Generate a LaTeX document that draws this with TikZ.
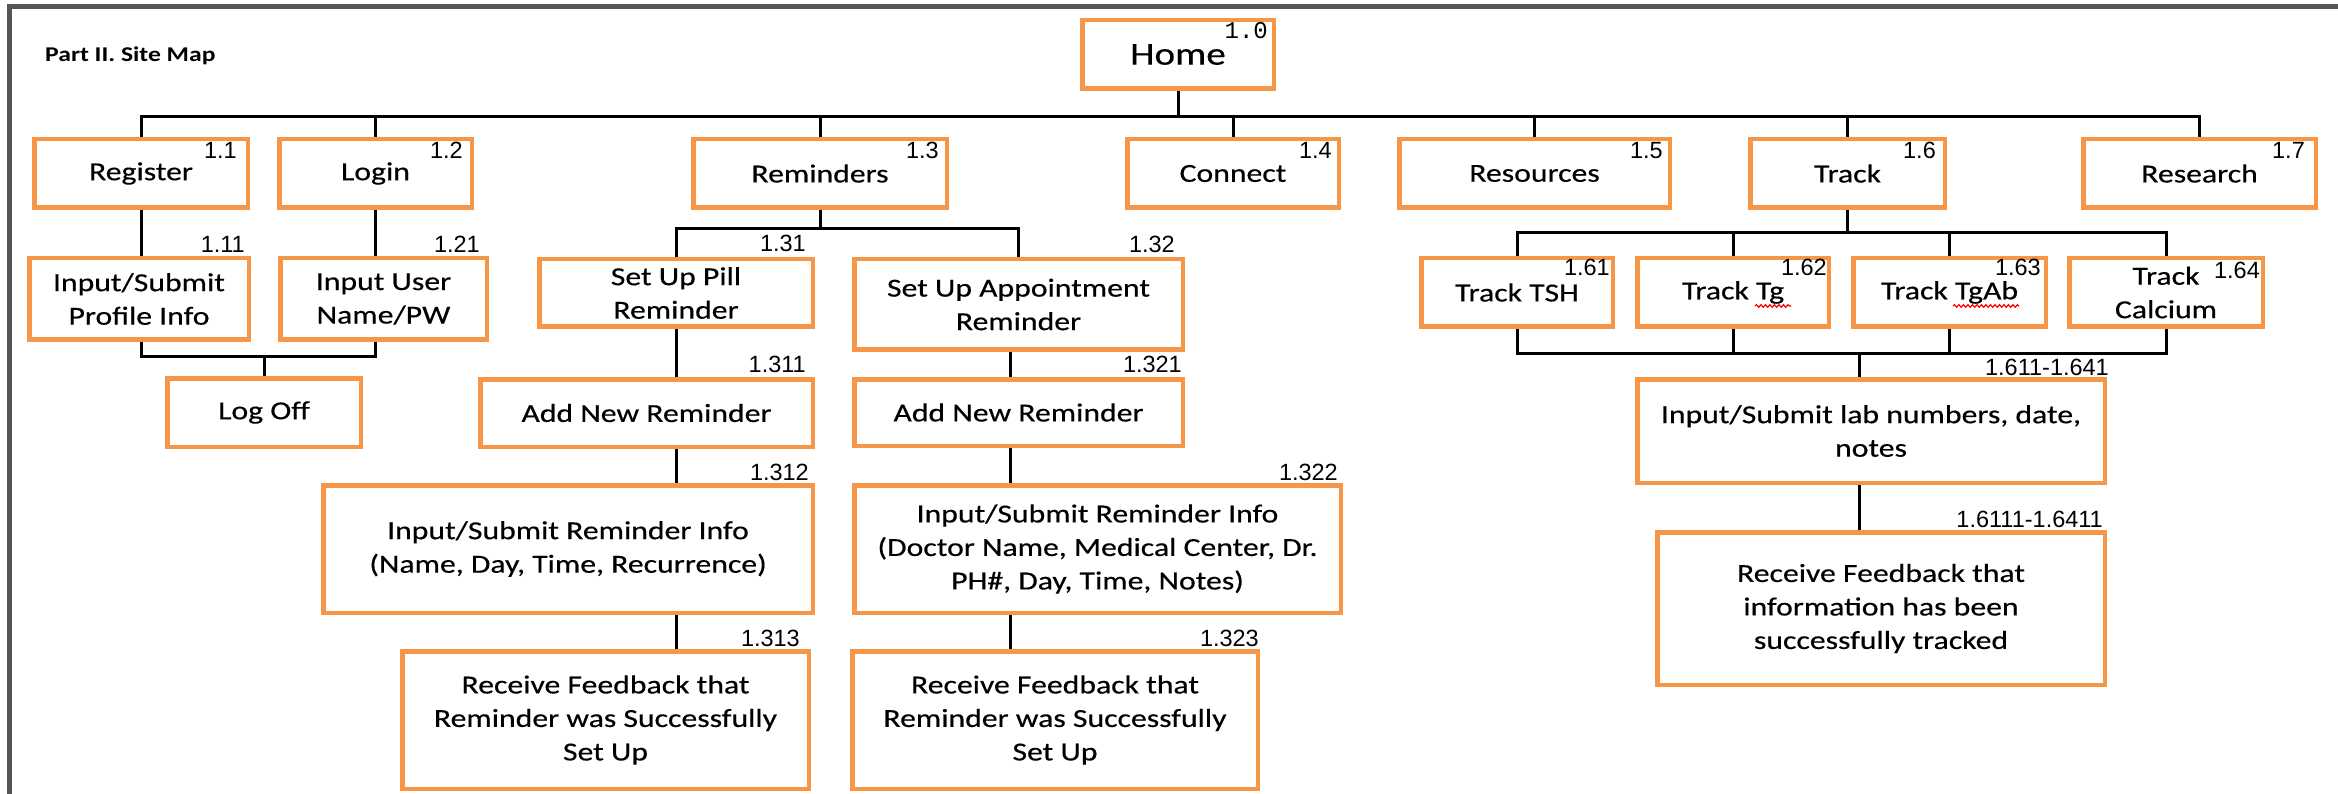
\documentclass[tikz,border=0pt]{standalone}
\usepackage{fontspec}
\setmainfont{Carlito}[FakeStretch=1.22, FakeBold=0.4]
\newfontfamily\titlefont{Carlito Bold}[FakeStretch=1.22]
\newfontfamily\lblsans{Liberation Sans}
\newfontfamily\lblmono{Liberation Mono}
\usetikzlibrary{calc,decorations.pathmorphing}
\definecolor{boxorange}{RGB}{247,150,70}
\definecolor{framegray}{RGB}{85,85,85}
\tikzset{
  box/.style={draw=boxorange, line width=4.5pt, fill=white, inner sep=0pt, align=center,
    font=\fontsize{26}{33.5}\selectfont, text=black},
  lbl/.style={inner sep=0pt, font=\lblsans\fontsize{23.5}{23.5}\selectfont, text=black},
  link/.style={draw=black, line width=3pt},
  squig/.style={draw=red, line width=1.2pt, decorate, decoration={snake, amplitude=1.3pt, segment length=4.5pt}}
}
\newcommand\bx[6]{\node[box, minimum width={#4-#2-4.5}, minimum height={#5-#3-4.5}] (#1) at ({(#2+#4)/2},{(#3+#5)/2}) {#6};}
\begin{document}
\begin{tikzpicture}[x=1pt, y=-1pt]
\useasboundingbox (0,0) rectangle (2338,794);
\fill[white] (0,0) rectangle (2338,794);
% frame
\draw[framegray, line width=5pt] (2338,6.5) -- (9,6.5) -- (9,794);

% title
\node[anchor=base west, inner sep=0pt, font=\titlefont\fontsize{21}{21}\selectfont] (title) at (45,62) {Part II. Site Map};

% boxes
\bx{home}{1080}{18}{1276}{91}{\fontsize{32}{32}\selectfont Home}
\bx{reg}{32}{137}{250}{210}{Register}
\bx{login}{277}{137}{474}{210}{Login}
\bx{rem}{691}{137}{949}{210}{Reminders}
\bx{conn}{1125}{137}{1341}{210}{Connect}
\bx{res}{1397}{137}{1672}{210}{Resources}
\bx{track}{1748}{137}{1947}{210}{Track}
\bx{resr}{2081}{137}{2318}{210}{Research}
\bx{prof}{27}{256}{251}{342}{Input/Submit\\Profile Info}
\bx{user}{278}{256}{489}{342}{Input User\\Name/PW}
\bx{logoff}{165}{376}{363}{449}{Log Off}
\bx{pill}{537}{257}{815}{329}{Set Up Pill\\Reminder}
\bx{appt}{852}{257}{1185}{352}{Set Up Appointment\\Reminder}
\bx{add1}{478}{377}{815}{449}{Add New Reminder}
\bx{add2}{852}{377}{1185}{448}{Add New Reminder}
\bx{info1}{321}{483}{815}{615}{Input/Submit Reminder Info\\(Name, Day, Time, Recurrence)}
\bx{info2}{852}{483}{1343}{615}{Input/Submit Reminder Info\\(Doctor Name, Medical Center, Dr.\\PH\#, Day, Time, Notes)}
\bx{fb1}{400}{649}{811}{791}{Receive Feedback that\\Reminder was Successfully\\Set Up}
\bx{fb2}{850}{649}{1260}{791}{Receive Feedback that\\Reminder was Successfully\\Set Up}
\bx{tsh}{1419}{256}{1615}{329}{Track TSH}
\bx{tg}{1635}{256}{1831}{329}{Track Tg}
\bx{tgab}{1851}{256}{2048}{329}{Track TgAb}
\bx{calc}{2067}{256}{2265}{329}{Track\\Calcium}
\bx{lab}{1635}{377}{2107}{485}{Input/Submit lab numbers, date,\\notes}
\bx{fb3}{1655}{530}{2107}{687}{Receive Feedback that\\information has been\\successfully tracked}

% spell-check squiggles
\draw[squig] (1755,306) -- (1791,306);
\draw[squig] (1953,306) -- (2019,306);

% bus coordinates
\coordinate (b1) at (0,117);
\coordinate (j1) at (0,357);
\coordinate (j2) at (0,229);
\coordinate (j3) at (0,233);
\coordinate (j4) at (0,354);
\coordinate (cx1) at (676,0);
\coordinate (cx2) at (1010,0);
\coordinate (cx3) at (1859,0);

% level 1
\draw[link] (home.south) -- (home.south |- b1);
\draw[link] (reg.north) -- (reg.north |- b1) -- (resr.north |- b1) -- (resr.north);
\foreach \n in {login,rem,conn,res,track} \draw[link] (\n.north) -- (\n.north |- b1);

% register / login
\draw[link] (reg.south) -- (reg.south |- prof.north);
\draw[link] (login.south) -- (login.south |- user.north);
\draw[link] (reg.south |- prof.south) -- (reg.south |- j1) -- (login.south |- j1) -- (login.south |- user.south);
\draw[link] (logoff.north) -- (logoff.north |- j1);

% reminders
\draw[link] (rem.south) -- (rem.south |- j2);
\draw[link] (pill.north) -- (pill.north |- j2) -- (appt.north |- j2) -- (appt.north);
\draw[link] (cx1 |- pill.south) -- (cx1 |- add1.north);
\draw[link] (cx1 |- add1.south) -- (cx1 |- info1.north);
\draw[link] (cx1 |- info1.south) -- (cx1 |- fb1.north);
\draw[link] (cx2 |- appt.south) -- (cx2 |- add2.north);
\draw[link] (cx2 |- add2.south) -- (cx2 |- info2.north);
\draw[link] (cx2 |- info2.south) -- (cx2 |- fb2.north);

% track
\draw[link] (track.south) -- (track.south |- j3);
\draw[link] (tsh.north) -- (tsh.north |- j3) -- (calc.north |- j3) -- (calc.north);
\draw[link] (tg.north) -- (tg.north |- j3);
\draw[link] (tgab.north) -- (tgab.north |- j3);
\draw[link] (tsh.south) -- (tsh.south |- j4) -- (calc.south |- j4) -- (calc.south);
\draw[link] (tg.south) -- (tg.south |- j4);
\draw[link] (tgab.south) -- (tgab.south |- j4);
\draw[link] (cx3 |- j4) -- (cx3 |- lab.north);
\draw[link] (cx3 |- lab.south) -- (cx3 |- fb3.north);

% labels inside boxes
\node[lbl, anchor=north east, font=\lblmono\fontsize{24}{24}\selectfont] (n10) at (1268,22) {1.0};
\node[lbl, anchor=north east] (n11) at (237,142) {1.1};
\node[lbl, anchor=north east] (n12) at (463,142) {1.2};
\node[lbl, anchor=north east] (n13) at (939,142) {1.3};
\node[lbl, anchor=north east] (n14) at (1332,142) {1.4};
\node[lbl, anchor=north east] (n15) at (1663,142) {1.5};
\node[lbl, anchor=north east] (n16) at (1936,142) {1.6};
\node[lbl, anchor=north east] (n17) at (2305,142) {1.7};
\node[lbl, anchor=north east] (n161) at (1610,259) {1.61};
\node[lbl, anchor=north east] (n162) at (1827,259) {1.62};
\node[lbl, anchor=north east] (n163) at (2041,259) {1.63};
\node[lbl, anchor=north east] (n164) at (2260,262) {1.64};
% labels above boxes
\node[lbl, anchor=base east] (n111) at (245,253) {1.11};
\node[lbl, anchor=base east] (n121) at (480,253) {1.21};
\node[lbl, anchor=base east] (n131) at (806,252) {1.31};
\node[lbl, anchor=base east] (n132) at (1175,253) {1.32};
\node[lbl, anchor=base east] (n1311) at (806,373) {1.311};
\node[lbl, anchor=base east] (n1321) at (1182,373) {1.321};
\node[lbl, anchor=base east] (n1312) at (809,480) {1.312};
\node[lbl, anchor=base east] (n1322) at (1338,480) {1.322};
\node[lbl, anchor=base east] (n1313) at (800,646) {1.313};
\node[lbl, anchor=base east] (n1323) at (1259,646) {1.323};
\node[lbl, anchor=base east] (n1611) at (2109,375) {1.611-1.641};
\node[lbl, anchor=base east] (n16111) at (2103,527) {1.6111-1.6411};
\end{tikzpicture}
\end{document}
